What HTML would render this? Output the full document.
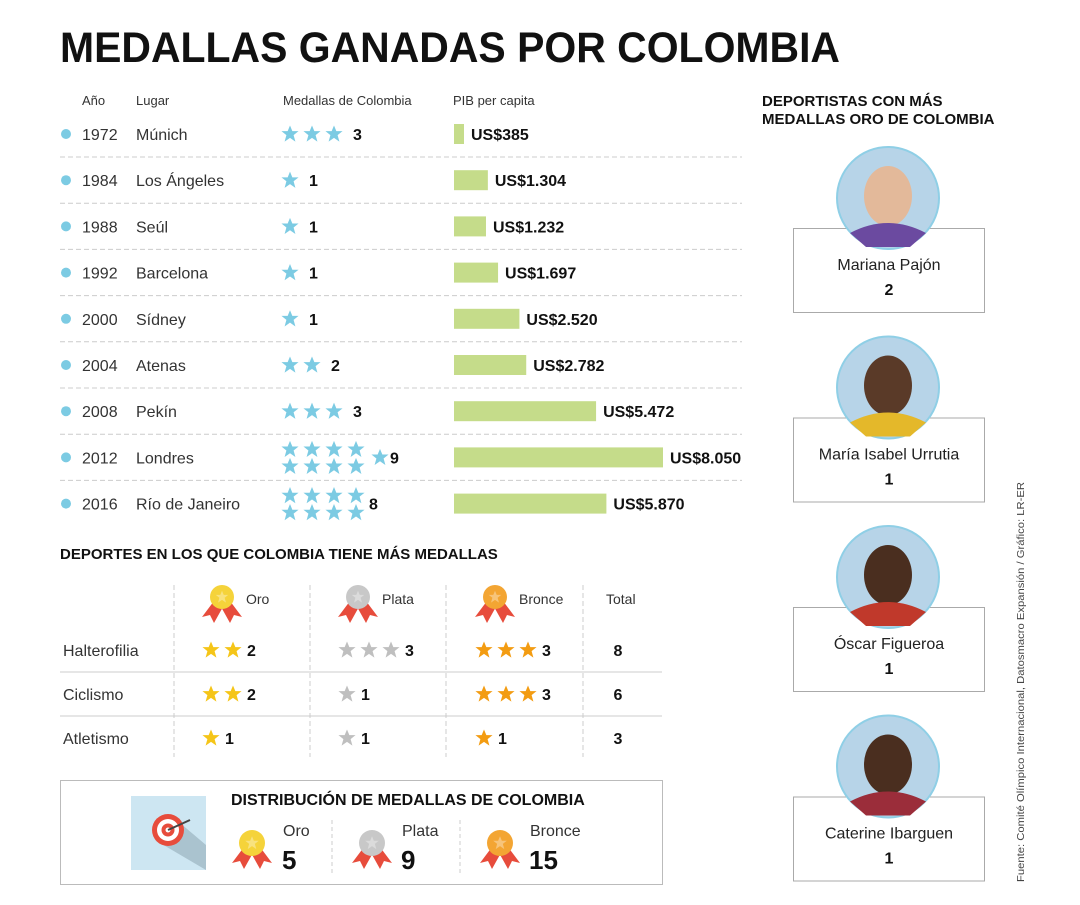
<!DOCTYPE html>
<html><head><meta charset="utf-8"><style>
body{margin:0;background:#fff;width:1080px;height:900px;overflow:hidden;font-family:"Liberation Sans",sans-serif}
svg text{font-family:"Liberation Sans",sans-serif}
</style></head><body>
<svg id="s" width="1080" height="900" xmlns="http://www.w3.org/2000/svg">
<defs>
<symbol id="star" viewBox="-10 -10 20 20"><polygon points="0,-9.5 2.6,-3.2 9.5,-3.2 4,1.2 6,8.5 0,4.3 -6,8.5 -4,1.2 -9.5,-3.2 -2.6,-3.2"/></symbol>
</defs>
<text x="60" y="62" font-size="43" font-weight="bold" fill="#111" textLength="780" lengthAdjust="spacingAndGlyphs">MEDALLAS GANADAS POR COLOMBIA</text>
<g font-size="13" fill="#333">
<text x="82" y="105">Año</text><text x="136" y="105">Lugar</text><text x="283" y="105">Medallas de Colombia</text><text x="453" y="105">PIB per capita</text></g>
<g id="rows"></g>
<text x="762" y="106" font-size="15" font-weight="bold" fill="#111">DEPORTISTAS CON MÁS</text>
<text x="762" y="124" font-size="15" font-weight="bold" fill="#111">MEDALLAS ORO DE COLOMBIA</text>
<g id="ath"></g>
<text transform="translate(1024,882) rotate(-90)" font-size="10.5" fill="#444" textLength="400" lengthAdjust="spacingAndGlyphs">Fuente: Comité Olímpico Internacional, Datosmacro Expansión / Gráfico: LR-ER</text>
<text x="60" y="559" font-size="15" font-weight="bold" fill="#111">DEPORTES EN LOS QUE COLOMBIA TIENE MÁS MEDALLAS</text>
<g id="sports"></g>
<rect x="60.5" y="780.5" width="602" height="104" fill="none" stroke="#bbb"/>
<g>
<rect x="131" y="796" width="75" height="74" fill="#cde6f2"/>
<polygon points="155,840 206,870 206,845 180,823" fill="#aac3cf"/>
<circle cx="168" cy="830" r="16" fill="#e74c3c"/><circle cx="168" cy="830" r="11" fill="#fff"/><circle cx="168" cy="830" r="6.5" fill="#e74c3c"/><circle cx="168" cy="830" r="2.5" fill="#fff"/>
<line x1="168" y1="830" x2="190" y2="820" stroke="#444" stroke-width="2"/>
</g>
<text x="231" y="805" font-size="16" font-weight="bold" fill="#111">DISTRIBUCIÓN DE MEDALLAS DE COLOMBIA</text>
<g id="dist"></g>
</svg>
<script>
const years=["1972","1984","1988","1992","2000","2004","2008","2012","2016"];
const places=["Múnich","Los Ángeles","Seúl","Barcelona","Sídney","Atenas","Pekín","Londres","Río de Janeiro"];
const medals=[3,1,1,1,1,2,3,9,8];
const pib=[385,1304,1232,1697,2520,2782,5472,8050,5870];
const pibLabels=["US$385","US$1.304","US$1.232","US$1.697","US$2.520","US$2.782","US$5.472","US$8.050","US$5.870"];
const sports=["Halterofilia","Ciclismo","Atletismo"];
const oro=[2,2,1];const plata=[3,1,1];const bronce=[3,3,1];
const athletes=["Mariana Pajón","María Isabel Urrutia","Óscar Figueroa","Caterine Ibarguen"];
const athleteGold=[2,1,1,1];
const distLabels=["Oro","Plata","Bronce"];const distValues=[5,9,15];

const NS="http://www.w3.org/2000/svg";
function el(t,a,p){const e=document.createElementNS(NS,t);for(const k in a)e.setAttribute(k,a[k]);p.appendChild(e);return e}
function txt(p,x,y,s,a){const e=el('text',Object.assign({x:x,y:y},a||{}),p);e.textContent=s;return e}
function star(p,x,y,sz,c){const u=el('use',{href:'#star',x:x-sz/2,y:y-sz/2,width:sz,height:sz,fill:c},p);return u}
const rowY=i=>134+i*46.2;
const xPib=v=>v*209/8050;
const rows=document.getElementById('rows');
years.forEach((y,i)=>{
 const g=el('g',{},rows);
 
 
 const cy=rowY(i);
 el('circle',{cx:66,cy:cy,r:5,fill:'#7ccbe3'},g);
 txt(g,82,cy+6,y,{'font-size':16,fill:'#333'});
 txt(g,136,cy+6,places[i],{'font-size':16,fill:'#333'});
 const n=medals[i];let lx;
 if(n<=4){for(let k=0;k<n;k++)star(g,290+k*22,cy,18,'#7ccbe3');lx=290+n*22-3;}
 else{for(let k=0;k<8;k++)star(g,290+(k%4)*22,cy-8+Math.floor(k/4)*17,18,'#7ccbe3');
  if(n>8){for(let k=8;k<n;k++)star(g,380,cy,18,'#7ccbe3');lx=390;}else lx=369;}
 txt(g,lx,cy+6,String(n),{'font-size':16,'font-weight':'bold',fill:'#111'});
 const b=el('rect',{x:454,y:cy-10,width:xPib(pib[i]),height:20,fill:'#c5dc8a'},g);
 
 
 txt(g,454+xPib(pib[i])+7,cy+6,pibLabels[i],{'font-size':16,'font-weight':'bold',fill:'#111'});
 if(i<years.length-1)el('line',{x1:60,x2:742,y1:cy+23,y2:cy+23,stroke:'#ccc','stroke-dasharray':'5,3'},g);
});
const ath=document.getElementById('ath');
athletes.forEach((n,i)=>{
 const g=el('g',{},ath);
 
 
 const cy=198+i*189.5;
 el('rect',{x:793.5,y:cy+30.5,width:191,height:84,fill:'#fff',stroke:'#aaa'},g);
 el('circle',{cx:888,cy:cy,r:51,fill:'#b7d4e8',stroke:'#8fcfe6','stroke-width':2},g);
 el('ellipse',{cx:888,cy:cy-2,rx:24,ry:30,fill:['#e3b99a','#5a3a28','#4a2e1f','#4a2e1f'][i]},g);
 el('path',{d:`M850,${cy+35} Q888,${cy+15} 926,${cy+35} L910,${cy+49} L866,${cy+49}Z`,fill:['#6b4aa0','#e4b82a','#c0392b','#9b2d3a'][i]},g);
 txt(g,889,cy+72,n,{'font-size':16,fill:'#222','text-anchor':'middle'});
 txt(g,889,cy+97,String(athleteGold[i]),{'font-size':16,'font-weight':'bold',fill:'#111','text-anchor':'middle'});
});
function medalIcon(p,x,y,c,r){
 el('polygon',{points:`${x-8},${y+4} ${x-20},${y+20} ${x-12},${y+18} ${x-8},${y+26} ${x+2},${y+8}`,fill:'#e74c3c'},p);
 el('polygon',{points:`${x+8},${y+4} ${x+20},${y+20} ${x+12},${y+18} ${x+8},${y+26} ${x-2},${y+8}`,fill:'#e74c3c'},p);
 el('circle',{cx:x,cy:y,r:r,fill:c},p);
 star(p,x,y,r*1.1,'rgba(255,255,255,0.35)');
}
const sp=document.getElementById('sports');
const colX=[204,340,477];const colC=['#f5c518','#bfbfbf','#f39c12'];const medC=['#f5d33a','#c8c8c8','#f3a533'];
[174,310,446,583].forEach(x=>el('line',{x1:x,x2:x,y1:585,y2:792-35,stroke:'#ccc','stroke-dasharray':'5,3'},sp));
['Oro','Plata','Bronce'].forEach((h,j)=>{medalIcon(sp,colX[j]+18,597,medC[j],12);txt(sp,colX[j]+42,604,h,{'font-size':14,fill:'#333'});});
txt(sp,606,604,'Total',{'font-size':14,fill:'#333'});
[672,716].forEach(y=>el('line',{x1:60,x2:662,y1:y,y2:y,stroke:'#ccc'},sp));
sports.forEach((s,i)=>{
 const g=el('g',{},sp);
 
 
 const cy=650+i*44;
 txt(g,63,cy+6,s,{'font-size':16,fill:'#333'});
 [oro,plata,bronce].forEach((arr,j)=>{const n=arr[i];for(let k=0;k<n;k++)star(g,211+colX[j]-204+k*22,cy,18,colC[j]);
  txt(g,colX[j]+n*22-1,cy+6,String(n),{'font-size':16,'font-weight':'bold',fill:'#111'});});
 txt(g,618,cy+6,String(oro[i]+plata[i]+bronce[i]),{'font-size':16,'font-weight':'bold',fill:'#111','text-anchor':'middle'});
});
const d=document.getElementById('dist');
[332,460].forEach(x=>el('line',{x1:x,x2:x,y1:820,y2:875,stroke:'#ccc','stroke-dasharray':'4,3'},d));
const dX=[252,372,500];const tX=[283,402,530];
distLabels.forEach((l,j)=>{
 const g=el('g',{},d);
 
 
 medalIcon(g,dX[j],843,medC[j],13);
 txt(g,tX[j],836,l,{'font-size':16,fill:'#333'});
 txt(g,tX[j]-1,869,String(distValues[j]),{'font-size':26,'font-weight':'bold',fill:'#111'});
});
</script>
</body></html>
